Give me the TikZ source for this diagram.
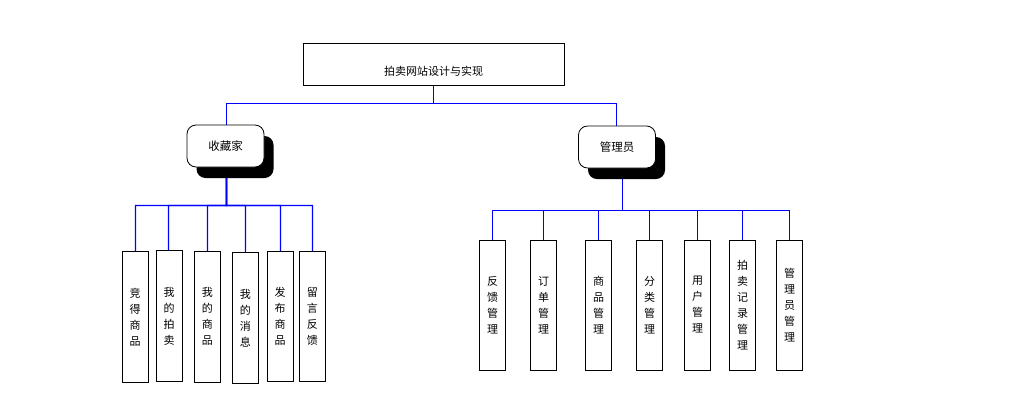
\documentclass[tikz,border=0pt]{standalone}
\usepackage{fontspec}
\newfontfamily\cjk{Noto Sans CJK SC}
\pgfdeclarelayer{background}
\pgfsetlayers{background,main}
\definecolor{linkblue}{RGB}{0,0,255}
\tikzset{
  conn/.style={draw=linkblue, line width=1.1pt},
  topbox/.style={draw=black, line width=0.8pt, fill=white, minimum width=261pt, minimum height=42pt, inner sep=0pt},
  rolebox/.style={draw=black, line width=0.8pt, fill=white, rounded corners=9pt, minimum width=77pt, minimum height=42pt, inner sep=0pt, font=\cjk\fontsize{11.5}{12}\selectfont},
  shadowbox/.style={fill=black, rounded corners=9pt, minimum width=77pt, minimum height=42pt, inner sep=0pt},
  leafbox/.style={draw=black, line width=1pt, fill=white, minimum width=26pt, inner sep=0pt, align=center, font=\cjk\fontsize{11}{16}\selectfont},
}
\begin{document}
\begin{tikzpicture}[x=1pt,y=-1pt]
\useasboundingbox (0,0) rectangle (1009,400);
% top
\node[topbox] (top) at (433.5,64) {};
\node[font=\cjk\fontsize{11}{12}\selectfont] (toptext) at (433.5,71) {拍卖网站设计与实现};
% roles
\node[shadowbox] (colsh) at (235,157) {};
\node[rolebox] (col) at (225.5,146) {收藏家};
\node[shadowbox] (admsh) at (626.5,158) {};
\node[rolebox] (adm) at (617,147) {管理员};
% left leaves
\node[leafbox, minimum height=131pt] (c1) at (135,317.3) {竞\\得\\商\\品};
\node[leafbox, minimum height=131pt] (c2) at (169.2,316.3) {我\\的\\拍\\卖};
\node[leafbox, minimum height=131pt] (c3) at (207.3,316.5) {我\\的\\商\\品};
\node[leafbox, minimum height=131pt] (c4) at (245.3,318.3) {我\\的\\消\\息};
\node[leafbox, minimum height=130pt] (c5) at (280,316) {发\\布\\商\\品};
\node[leafbox, minimum height=130pt] (c6) at (312.3,316) {留\\言\\反\\馈};
% right leaves
\node[leafbox, minimum height=130pt] (a1) at (492.5,305) {反\\馈\\管\\理};
\node[leafbox, minimum height=130pt] (a2) at (543.5,305) {订\\单\\管\\理};
\node[leafbox, minimum height=130pt] (a3) at (598.5,305) {商\\品\\管\\理};
\node[leafbox, minimum height=130pt] (a4) at (649.5,305) {分\\类\\管\\理};
\node[leafbox, minimum height=130pt] (a5) at (697.5,305) {用\\户\\管\\理};
\node[leafbox, minimum height=130pt] (a6) at (742.5,305) {拍\\卖\\记\\录\\管\\理};
\node[leafbox, minimum height=130pt] (a7) at (789.5,305) {管\\理\\员\\管\\理};
\coordinate (topb) at (433.5,85);
\coordinate (colt) at (226.5,125);
\coordinate (admt) at (616.5,126);
\coordinate (colb) at (226.5,167);
\coordinate (admb) at (622.5,168);
\begin{pgfonlayer}{background}
\draw[conn] (topb) |- ([yshift=0pt]colt |- 0,103.5) -- (colt);
\draw[conn] (topb) |- (admt |- 0,103.5) -- (admt);
\foreach \n/\x in {c1/135.5,c2/168.5,c3/207.5,c4/245.5,c5/280.5,c6/312.5}{
  \draw[conn] (colb) |- (\x,205.5) -- (\x,251) -- (\n.north);
}
\foreach \n/\x in {a1/492.5,a2/543.5,a3/598.5,a4/649.5,a5/697.5,a6/742.5,a7/789.5}{
  \draw[conn] (admb) |- (\x,210.5) -- (\x,240) -- (\n.north);
}
\end{pgfonlayer}
\end{tikzpicture}
\end{document}
